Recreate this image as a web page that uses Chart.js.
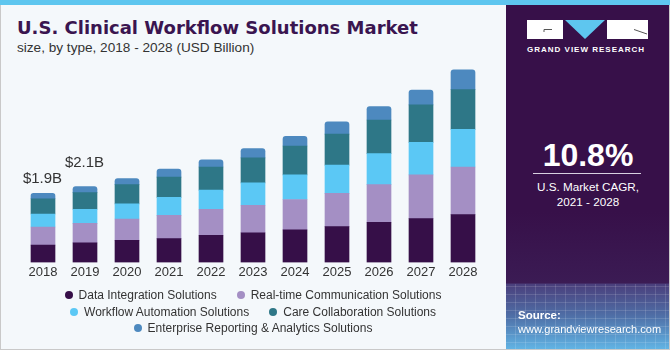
<!DOCTYPE html>
<html>
<head>
<meta charset="utf-8">
<script src="https://cdn.jsdelivr.net/npm/chart.js@4.4.1/dist/chart.umd.min.js"></script>
<style>
  body { margin: 0; }
  #wrap { position: relative; width: 670px; height: 350px; background: #f4f8fb; overflow: hidden;
          font-family: "Liberation Sans", Arial, sans-serif; }
  #stripe { position: absolute; left: 0; top: 0; width: 670px; height: 5px; background: #5ec6ef; z-index: 6; }
  #frame { position: absolute; left: 0; top: 5px; width: 670px; height: 345px; box-sizing: border-box;
           border: 1px solid #c9c9c9; border-top: none; pointer-events: none; z-index: 5; }
  #title { position: absolute; left: 17px; top: 19px; font-family: "DejaVu Sans", sans-serif; font-size: 18px; line-height: 1; font-weight: bold; color: #3a1550; white-space: nowrap; }
  #sub { position: absolute; left: 17px; top: 41px; font-size: 13.6px; line-height: 1; color: #333; white-space: nowrap; }
  #chartBox { position: absolute; left: 0; top: 0; width: 506px; height: 292px; }
  #legend { position: absolute; left: 13px; top: 288px; width: 480px; display: flex; flex-wrap: wrap;
            justify-content: center; column-gap: 20px; row-gap: 2px; font-size: 12px; color: #333; }
  #legend .item { display: flex; align-items: center; height: 14.5px; white-space: nowrap; }
  #legend .dot { width: 8px; height: 8px; border-radius: 50%; margin-right: 6px; }
  #panel { position: absolute; left: 506px; top: 5px; width: 164px; height: 345px; color: #fff; z-index: 2;
           background:
             repeating-linear-gradient(90deg, rgba(255,255,255,0) 0 9px, rgba(255,255,255,0.13) 9px 10px) 0 279px / 164px 66px no-repeat,
             repeating-linear-gradient(0deg, rgba(255,255,255,0) 0 7px, rgba(255,255,255,0.13) 7px 8px) 0 279px / 164px 66px no-repeat,
             linear-gradient(to bottom, #371049 0%, #371049 60%, #3b1b54 80.5%, #4a3f7c 81%, #4f6ea6 90%, #62b6e6 100%); }
  #logo { position: absolute; left: 21px; top: 15px; }
  #brand { position: absolute; left: 21px; top: 41px; font-size: 8px; line-height: 1; font-weight: bold; letter-spacing: 1px; white-space: nowrap; }
  #cagr { position: absolute; left: 0; width: 164px; top: 134px; text-align: center; font-size: 32px; line-height: 1; font-weight: bold; }
  #rule { position: absolute; left: 27px; top: 168px; width: 108px; height: 1px; background: #d8d0e0; }
  .note { position: absolute; left: 0; width: 164px; text-align: center; font-size: 11.7px; line-height: 1; }
  #src1 { position: absolute; left: 12px; top: 305px; font-size: 11.5px; font-weight: bold; line-height: 1; }
  #src2 { position: absolute; left: 12px; top: 319px; font-size: 11px; line-height: 1; white-space: nowrap; }
</style>
</head>
<body>
<div id="wrap">
  <div id="stripe"></div>
  <div id="title">U.S. Clinical Workflow Solutions Market</div>
  <div id="sub">size, by type, 2018 - 2028 (USD Billion)</div>
  <div id="chartBox"><canvas id="barChart"></canvas></div>
  <div id="legend"></div>
  <div id="panel">
    <svg id="logo" width="122" height="20" viewBox="0 0 122 20">
      <rect x="0" y="0" width="36" height="19" fill="#fff"/>
      <polyline points="17,12 17,9.5 25,9.5" fill="none" stroke="#555" stroke-width="1"/>
      <polygon points="38,0 78,0 58,19" fill="#5ec6ef"/>
      <rect x="80" y="0" width="41" height="19" fill="#fff"/>
      <polyline points="107,9.5 120,14" fill="none" stroke="#555" stroke-width="1"/>
    </svg>
    <div id="brand">GRAND VIEW RESEARCH</div>
    <div id="cagr">10.8%</div>
    <div id="rule"></div>
    <div class="note" style="top:176px">U.S. Market CAGR,</div>
    <div class="note" style="top:191px">2021 - 2028</div>
    <div id="src1">Source:</div>
    <div id="src2">www.grandviewresearch.com</div>
  </div>
  <div id="frame"></div>
</div>
<script>
// Chart data (USD Billion)
const years = ['2018', '2019', '2020', '2021', '2022', '2023', '2024', '2025', '2026', '2027', '2028'];
const seriesNames = [
  'Data Integration Solutions',
  'Real-time Communication Solutions',
  'Workflow Automation Solutions',
  'Care Collaboration Solutions',
  'Enterprise Reporting & Analytics Solutions'
];
const dataIntegration = [0.48, 0.54, 0.61, 0.66, 0.75, 0.82, 0.90, 0.99, 1.11, 1.21, 1.32];
const realTimeComm    = [0.50, 0.54, 0.59, 0.64, 0.72, 0.76, 0.84, 0.92, 1.04, 1.21, 1.32];
const workflowAuto    = [0.36, 0.39, 0.42, 0.50, 0.53, 0.62, 0.68, 0.78, 0.86, 0.90, 1.04];
const careCollab      = [0.42, 0.46, 0.53, 0.56, 0.64, 0.69, 0.80, 0.86, 0.93, 1.04, 1.10];
const enterpriseRep   = [0.15, 0.17, 0.17, 0.22, 0.20, 0.26, 0.27, 0.34, 0.37, 0.41, 0.55];
const totalLabels = ['$1.9B', '$2.1B'];

const colors = ['#360f48', '#a48fc4', '#5bc8f5', '#2e7787', '#4d89bf'];
const seriesData = [dataIntegration, realTimeComm, workflowAuto, careCollab, enterpriseRep];

// HTML legend built from the series
const legendEl = document.getElementById('legend');
seriesNames.forEach((name, i) => {
    const item = document.createElement('div');
    item.className = 'item';
    item.innerHTML = '<span class="dot" style="background:' + colors[i] + '"></span>' + name;
    legendEl.appendChild(item);
});

// Total labels above the first bars
const totalsPlugin = {
    id: 'totals',
    afterDatasetsDraw(chart) {
        const ctx = chart.ctx;
        const top = chart.getDatasetMeta(seriesData.length - 1);
        const lift = [9, 18];
        ctx.save();
        ctx.font = '15px "Liberation Sans", Arial, sans-serif';
        ctx.fillStyle = '#333';
        ctx.textAlign = 'center';
        ctx.textBaseline = 'bottom';
        totalLabels.forEach((txt, i) => {
            const bar = top.data[i];
            ctx.fillText(txt, bar.x - 0.5, bar.y - lift[i] + 2);
        });
        ctx.restore();
    }
};

let barChart;
function drawChart() {
    const ctx = document.getElementById('barChart').getContext('2d');
    barChart = new Chart(ctx, {
        type: 'bar',
        data: {
            labels: years,
            datasets: seriesData.map((d, i) => ({
                label: seriesNames[i],
                data: d,
                backgroundColor: colors[i],
                barThickness: 24,
                borderRadius: 3,
                borderSkipped: 'start'
            }))
        },
        options: {
            responsive: true,
            maintainAspectRatio: false,
            animation: false,
            layout: { padding: { left: 22, right: 22, top: 60, bottom: 10 } },
            plugins: {
                legend: { display: false },
                tooltip: { enabled: false }
            },
            scales: {
                x: {
                    stacked: true,
                    grid: { display: false, drawTicks: false },
                    border: { display: false },
                    ticks: { color: '#333', padding: 2, font: { size: 13, family: '"Liberation Sans", Arial, sans-serif' } }
                },
                y: {
                    stacked: true,
                    display: false,
                    min: 0,
                    max: 5.6
                }
            }
        },
        plugins: [totalsPlugin]
    });
}

document.addEventListener('DOMContentLoaded', () => {
    drawChart();
});
</script>
</body>
</html>
